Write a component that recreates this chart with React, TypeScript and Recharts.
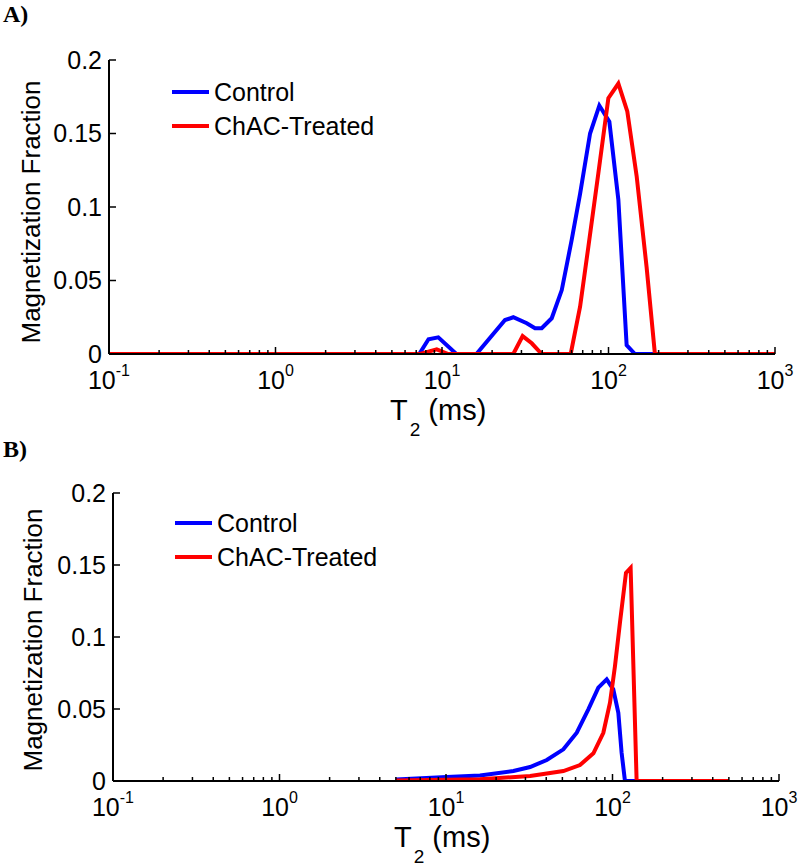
import React from 'react';
import { LineChart, Line, XAxis, YAxis, Legend } from 'recharts';

// T2 distributions (T2 in ms, magnetization fraction)
const tControlA = [0.1, 7.3, 8.3, 9.5, 12.2, 16.1, 23.9, 26.8, 32.3, 36.2, 39.7, 45.6, 52.4, 60.1, 67.5, 77.5, 88.1, 101.2, 114.6, 128.5, 144.2, 1000];
const vControlA = [0, 0, 0.01, 0.0113, 0, 0, 0.0231, 0.025, 0.0209, 0.0175, 0.0175, 0.0243, 0.0435, 0.0776, 0.109, 0.15, 0.169, 0.158, 0.105, 0.006, 0, 0];

const tTreatedA = [0.1, 7.4, 9.3, 10.9, 26.8, 30.5, 34.6, 39.7, 59.3, 67.5, 75.7, 86.9, 99.8, 114.6, 129.7, 147.6, 169.4, 190, 1000];
const vTreatedA = [0, 0, 0.0032, 0, 0, 0.0122, 0.0073, 0, 0, 0.0322, 0.073, 0.123, 0.174, 0.184, 0.165, 0.121, 0.059, 0, 0];

const tControlB = [5, 10.1, 16, 25.4, 32, 40.3, 50.7, 61, 71.6, 82.2, 92.3, 101.1, 108.4, 113.4, 118.8, 500];
const vControlB = [0.001, 0.0028, 0.0039, 0.0069, 0.0097, 0.0146, 0.022, 0.0335, 0.0498, 0.0648, 0.0706, 0.0637, 0.0474, 0.0197, 0, 0];

const tTreatedB = [5, 16, 32, 50.7, 63.8, 76.8, 88.1, 96.6, 103.5, 110.9, 120.5, 128.5, 139.6, 500];
const vTreatedB = [0.0003, 0.0012, 0.0035, 0.0069, 0.0111, 0.0192, 0.0335, 0.0544, 0.0798, 0.11, 0.1446, 0.148, 0, 0];

const seriesNames = ['Control', 'ChAC-Treated'];
const xMajorTicks = [0.1, 1, 10, 100, 1000];
const yTicks = [0, 0.05, 0.1, 0.15, 0.2];

const FONT = '"Liberation Sans", Arial, Helvetica, sans-serif';
const BLUE = '#0000ff';
const RED = '#ff0000';

const toRows = (t: number[], v: number[]) => t.map((x, i) => ({ t: x, v: v[i] }));

// log minor ticks 2..9 inside every decade
const xTicks: number[] = [];
xMajorTicks.forEach((d, i) => {
  xTicks.push(d);
  if (i < xMajorTicks.length - 1) {
    for (let k = 2; k <= 9; k++) xTicks.push(Number((d * k).toPrecision(3)));
  }
});

const XTick = (props: any) => {
  const { x, y, payload } = props;
  const lg = Math.log10(payload.value);
  const exp = Math.round(lg);
  const major = Math.abs(lg - exp) < 1e-6;
  return (
    <g>
      <line x1={x} x2={x} y1={y} y2={y - (major ? 7 : 4)} stroke="#000" strokeWidth={1.5} />
      {major && (
        <text x={x} y={y + 35} textAnchor="middle" fontSize={25} fontFamily={FONT} fill="#000">
          10
          <tspan dy={-13} fontSize={16}>{exp}</tspan>
        </text>
      )}
    </g>
  );
};

const YTick = (props: any) => {
  const { x, y, payload } = props;
  return (
    <g>
      <line x1={x} x2={x + 7} y1={y} y2={y} stroke="#000" strokeWidth={1.5} />
      <text x={x - 7} y={y} dy="0.35em" textAnchor="end" fontSize={25} fontFamily={FONT} fill="#000">
        {String(payload.value)}
      </text>
    </g>
  );
};

const LegendBox = (props: any) => {
  const items = [...(props.payload || [])].sort(
    (a: any, b: any) => seriesNames.indexOf(a.value) - seriesNames.indexOf(b.value)
  );
  return (
    <div style={{ fontFamily: FONT, fontSize: 25, color: '#000' }}>
      {items.map((it: any) => (
        <div key={it.value} style={{ display: 'flex', alignItems: 'center', height: 34 }}>
          <span style={{ display: 'inline-block', width: 37, height: 4, background: it.color }} />
          <span style={{ marginLeft: 5, whiteSpace: 'nowrap' }}>{it.value}</span>
        </div>
      ))}
    </div>
  );
};

interface PanelProps {
  control: { t: number; v: number }[];
  treated: { t: number; v: number }[];
  height: number;
  margin: { top: number; right: number; bottom: number; left: number };
  legendPos: { left: number; top: number };
}

const Panel: React.FC<PanelProps> = ({ control, treated, height, margin, legendPos }) => (
  <LineChart width={800} height={height} margin={margin}>
    <XAxis
      dataKey="t"
      type="number"
      scale="log"
      domain={[0.1, 1000]}
      ticks={xTicks}
      interval={0}
      tick={<XTick />}
      tickLine={false}
      tickSize={0}
      tickMargin={0}
      height={30}
      axisLine={{ stroke: '#000', strokeWidth: 2 }}
      allowDataOverflow
    />
    <YAxis
      dataKey="v"
      type="number"
      domain={[0, 0.2]}
      ticks={yTicks}
      interval={0}
      tick={<YTick />}
      tickLine={false}
      tickSize={0}
      tickMargin={0}
      width={60}
      axisLine={{ stroke: '#000', strokeWidth: 2 }}
      allowDataOverflow
    />
    <Legend
      layout="vertical"
      align="center"
      verticalAlign="middle"
      content={<LegendBox />}
      wrapperStyle={{ left: legendPos.left, top: legendPos.top, width: 300 }}
    />
    <Line
      data={control}
      dataKey="v"
      name={seriesNames[0]}
      type="linear"
      stroke={BLUE}
      strokeWidth={4}
      dot={false}
      activeDot={false}
      isAnimationActive={false}
    />
    <Line
      data={treated}
      dataKey="v"
      name={seriesNames[1]}
      type="linear"
      stroke={RED}
      strokeWidth={4}
      dot={false}
      activeDot={false}
      isAnimationActive={false}
    />
  </LineChart>
);

const YTitle = ({ x, y }: { x: number; y: number }) => (
  <text transform={`translate(${x},${y}) rotate(-90)`} textAnchor="middle" fontSize={26} fontFamily={FONT} fill="#000">
    Magnetization Fraction
  </text>
);

const XTitle = ({ x, y }: { x: number; y: number }) => (
  <text x={x} y={y} fontSize={29} fontFamily={FONT} fill="#000">
    T
    <tspan dx={2} dy={16} fontSize={19}>2</tspan>
    <tspan dy={-16} fontSize={29}> (ms)</tspan>
  </text>
);

export default function App() {
  return (
    <div style={{ position: 'absolute', left: 0, top: 0, width: 800, height: 866, background: '#fff', overflow: 'hidden' }}>
      <div style={{ position: 'absolute', left: 0, top: 0 }}>
        <Panel
          control={toRows(tControlA, vControlA)}
          treated={toRows(tTreatedA, vTreatedA)}
          height={440}
          margin={{ top: 60, right: 25, bottom: 56, left: 49 }}
          legendPos={{ left: 172, top: 75 }}
        />
      </div>
      <div style={{ position: 'absolute', left: 0, top: 440 }}>
        <Panel
          control={toRows(tControlB, vControlB)}
          treated={toRows(tTreatedB, vTreatedB)}
          height={426}
          margin={{ top: 53, right: 21, bottom: 55, left: 53 }}
          legendPos={{ left: 175, top: 66 }}
        />
      </div>
      <svg width={800} height={866} style={{ position: 'absolute', left: 0, top: 0, pointerEvents: 'none' }}>
        <text x={3} y={22} fontSize={24} fontWeight="bold" fontFamily='"Liberation Serif", "Times New Roman", serif'>A)</text>
        <text x={3} y={457} fontSize={24} fontWeight="bold" fontFamily='"Liberation Serif", "Times New Roman", serif'>B)</text>
        <YTitle x={40} y={212} />
        <YTitle x={42} y={640} />
        <XTitle x={390} y={420} />
        <XTitle x={394} y={847} />
      </svg>
    </div>
  );
}
